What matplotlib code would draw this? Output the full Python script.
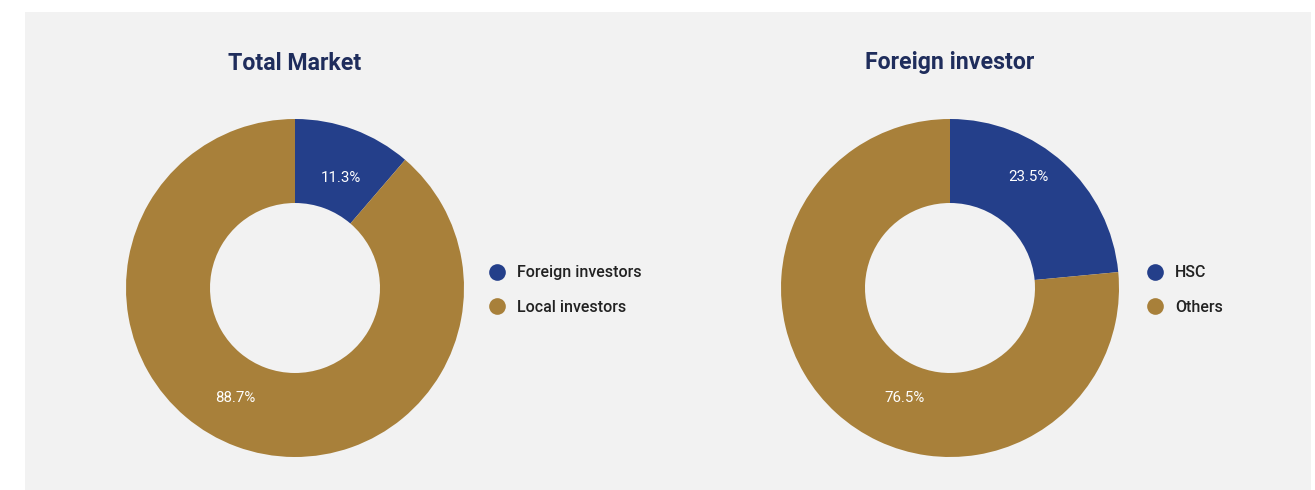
import matplotlib
matplotlib.use("Agg")
import matplotlib.pyplot as plt
from matplotlib.lines import Line2D
from matplotlib.patches import Rectangle

# ---- data ----
titles = ["Total Market", "Foreign investor"]
labels_left = ["Foreign investors", "Local investors"]
values_left = [11.3, 88.7]
labels_right = ["HSC", "Others"]
values_right = [23.5, 76.5]

# ---- label placement (axes data units, radius = 1) ----
label_pos_left = [(0.27, 0.65), (-0.355, -0.65)]
label_pos_right = [(0.465, 0.655), (-0.27, -0.65)]

# ---- style ----
BLUE = "#243f8a"
GOLD = "#a8803a"
PANEL = "#f2f2f2"
TITLE_C = "#1f2d5c"
plt.rcParams['font.family'] = ['Roboto', 'DejaVu Sans']

W, H = 1315, 490
fig = plt.figure(figsize=(W / 100, H / 100), dpi=100)
fig.patch.set_facecolor("white")
fig.patches.append(Rectangle((25 / W, 0), (1311 - 25) / W, (490 - 12) / H,
                             transform=fig.transFigure, facecolor=PANEL,
                             edgecolor="none", zorder=-5))

R = 169
centers = [(295, 288), (950, 288)]
datasets = [(labels_left, values_left, label_pos_left),
            (labels_right, values_right, label_pos_right)]
legend_x = [487, 1145]

for (cx, cy), title, (labs, vals, lpos), lx in zip(centers, titles, datasets, legend_x):
    ax = fig.add_axes([(cx - R) / W, (H - cy - R) / H, 2 * R / W, 2 * R / H])
    ax.set_zorder(2)
    wedges, _, autotexts = ax.pie(
        vals, colors=[BLUE, GOLD], startangle=90, counterclock=False,
        radius=1.0, autopct=lambda p: f"{p:.1f}%", pctdistance=0.75,
        wedgeprops=dict(width=1 - 85 / R, edgecolor="none"),
        textprops=dict(color="white", fontsize=10.8))
    for t, p in zip(autotexts, lpos):
        t.set_position(p)
    ax.set_xlim(-1, 1)
    ax.set_ylim(-1, 1)
    ax.set_aspect("equal")
    ax.axis("off")
    fig.text(cx / W, 1 - 63 / H, title, ha="center", va="center",
             fontsize=16.7, fontweight="bold", color=TITLE_C)
    handles = [Line2D([], [], marker="o", linestyle="none", markersize=12,
                      markerfacecolor=c, markeredgecolor="none")
               for c in [BLUE, GOLD]]
    fig.legend(handles, labs, loc="center left",
               bbox_to_anchor=(lx / W, 1 - 290 / H), frameon=False,
               handletextpad=0.7, labelspacing=1.22, handlelength=1.2,
               borderpad=0, borderaxespad=0,
               prop=dict(size=11.5, weight="medium"), labelcolor="#222222")

fig.savefig("out.png", dpi=100, facecolor="white")
